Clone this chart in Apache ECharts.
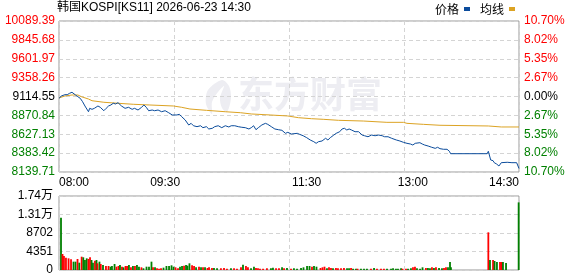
<!DOCTYPE html>
<html>
<head>
<meta charset="utf-8">
<script src="https://cdn.jsdelivr.net/npm/echarts@6/dist/echarts.min.js"></script>
<style>
html,body{margin:0;padding:0;background:#fff;}
#chart{width:578px;height:276px;}
</style>
</head>
<body>
<div id="chart"></div>
<script>
// ---- data ----
const titleText = '韩国KOSPI[KS11] 2026-06-23 14:30';
const basePrice = 9114.55;
const priceTicks = [8139.71, 8383.42, 8627.13, 8870.84, 9114.55, 9358.26, 9601.97, 9845.68, 10089.39];
const pctLabels = ['10.70%', '8.02%', '5.35%', '2.67%', '0.00%', '2.67%', '5.35%', '8.02%', '10.70%'];
const volTicks = [0, 4351, 8702, 13053, 17404];
const volLabels = ['0', '4351', '8702', '1.31万', '1.74万'];
const timeTicks = [0, 90, 210, 300, 390];
const timeLabels = ['08:00', '09:30', '11:30', '13:00', '14:30'];

// minutes since 08:00
const priceMinutes = [0,2,5,7,9,11,12,14,16,18,20,22,25,26,28,30,33,35,38,40,42,44,46,48,50,53,56,59,62,64,67,70,72,74,76,79,81,84,87,90,93,96,97,100,102,104,107,110,112,114,117,120,122,125,127,130,132,135,138,141,144,146,149,152,155,158,161,163,165,167,169,172,175,177,180,183,186,189,192,194,197,202,204,207,210,213,216,218,220,223,226,228,230,233,235,238,240,242,244,246,248,251,254,257,259,262,265,268,271,274,276,279,282,286,289,292,295,298,300,302,303,306,308,310,313,316,319,321,323,326,329,331,332,363,364,365,366,368,369,371,373,374,375,376,380,384,388,390];
const priceValues = [9091,9121,9138,9138,9156,9169,9156,9134,9112,9091,9047,8992,8918,8962,8949,8962,8992,8975,8931,8962,8992,9005,9027,9018,9035,8992,8962,8975,8949,8962,8940,8975,9005,8975,8931,8940,8931,8940,8918,8931,8905,8876,8854,8876,8885,8854,8811,8746,8768,8737,8725,8737,8712,8725,8695,8704,8725,8737,8712,8737,8721,8737,8737,8725,8717,8712,8695,8712,8737,8686,8712,8747,8768,8755,8725,8695,8686,8678,8639,8652,8630,8639,8626,8608,8583,8553,8531,8510,8531,8540,8575,8553,8583,8617,8639,8660,8695,8704,8682,8695,8682,8660,8660,8617,8608,8595,8617,8608,8617,8608,8595,8595,8575,8553,8540,8523,8510,8501,8488,8510,8523,8518,8501,8488,8475,8459,8445,8459,8441,8433,8433,8407,8376,8376,8407,8389,8295,8286,8260,8243,8217,8200,8260,8273,8265,8260,8260,8185];

const avgMinutes = [0,5,11,16,19,25,28,38,50,63,77,97,104,111,125,141,154,163,179,194,203,214,224,237,258,278,292,295,309,323,364,375,390];
const avgValues = [9096,9121,9134,9134,9112,9082,9060,9040,9027,9014,9005,8992,8975,8953,8936,8918,8905,8889,8876,8863,8841,8828,8820,8807,8798,8781,8781,8768,8755,8743,8734,8721,8721];

const volMinutes = [
  1.7,3.0,4.2,5.9,8.1,10.2,12.3,14.0,15.7,17.2,
  19.2,20.6,22.0,23.5,25.0,26.3,27.6,28.8,30.5,31.8,
  32.6,34.3,35.4,37.3,39.8,42.0,43.7,44.9,47.1,48.7,
  50.4,51.7,53.4,54.7,56.4,57.7,59.3,61.0,62.7,64.4,
  66.1,67.8,69.9,71.6,74.2,76.3,78.4,79.7,81.4,83.1,
  84.8,86.5,88.6,91.1,93.3,95.4,97.1,98.8,100.9,102.6,
  104.3,106.0,107.7,108.9,110.6,112.8,114.5,116.2,118.7,120.4,
  122.1,123.8,125.9,127.2,129.7,131.4,134.0,137.3,139.9,142.4,
  145.8,148.4,150.9,154.3,156.0,158.5,160.2,162.8,165.3,167.0,
  168.7,170.4,173.0,176.3,179.7,181.4,184.0,186.5,189.1,190.8,
  193.3,196.7,199.2,201.8,205.2,207.3,210.3,212.4,214.5,216.2,
  218.3,221.7,223.4,225.1,227.2,228.9,230.6,232.3,234.8,236.5,
  239.1,241.6,244.2,245.9,247.6,249.3,251.8,253.1,256.0,258.6,
  261.1,264.5,267.1,269.6,273.0,275.5,278.1,281.5,283.2,285.7,
  287.4,290.0,291.2,294.2,295.9,298.4,300.1,301.8,303.5,306.1,
  308.2,311.1,312.8,314.5,316.2,317.9,319.6,322.2,324.7,326.4,
  328.1,329.8,331.5,332.3,364.0,365.4,368.0,369.3,371.3,373.9,
  375.2,376.4,379.0,389.7
];
const volValues = [
  12300,3760,3290,2900,2740,2500,1960,1960,2590,1720,
  3130,2980,2350,2740,2600,2980,2350,1720,2200,2350,
  1570,1960,1410,1180,940,940,780,940,1410,780,
  940,1180,780,630,940,940,1180,630,940,940,
  1180,780,630,400,780,780,1960,630,630,400,
  300,400,550,940,940,1100,780,630,400,780,
  940,1020,1180,1020,1570,1100,940,630,780,630,
  630,630,470,630,470,470,400,400,470,300,
  400,400,300,630,1250,940,630,400,780,470,
  400,300,300,400,400,550,400,400,630,400,
  470,300,400,300,470,630,940,940,780,940,
  780,470,630,780,400,630,470,400,470,400,
  400,470,400,400,470,300,300,300,300,300,
  300,300,470,300,300,300,300,300,400,300,
  300,400,300,300,300,400,630,780,400,300,
  630,470,470,400,630,470,630,470,400,470,
  630,630,1880,630,8860,2350,2350,2120,1880,1880,
  1880,1880,1650,15900
];
const volDir = [
  'd','u','u','u','u','u','d','d','u','d',
  'u','d','d','d','u','u','d','d','u','d',
  'u','d','u','d','u','u','d','d','d','u',
  'u','d','u','d','u','u','d','u','d','u',
  'd','d','u','d','d','d','d','u','d','u',
  'u','u','d','d','d','d','d','u','u','d',
  'd','u','d','d','d','u','u','d','u','d',
  'u','d','u','u','u','d','d','u','u','u',
  'd','u','u','u','d','u','u','d','d','u',
  'u','u','u','u','d','d','u','u','d','u',
  'd','u','d','d','d','d','d','d','u','d',
  'd','u','u','u','d','u','u','d','u','u',
  'u','u','d','d','u','d','d','u','d','d',
  'd','u','d','u','u','u','d','d','d','d',
  'd','d','u','u','d','d','u','u','d','d',
  'd','u','d','d','u','d','u','d','d','u',
  'u','d','d','d','u','d','u','d','d','u',
  'u','d','d','d'
];

// ---- styles ----
const RED = '#ff0000', GREEN = '#008000', BLUE = '#0b4c9c', GOLD = '#dca323';
const GRID_LINE = {show: true, lineStyle: {color: '#d4d4d4', type: [4, 3], width: 1}};
const FONT = 'Liberation Sans, Arial, Noto Sans CJK SC, sans-serif';
const WM = '#ededf2';

function tickIndex(v) {
  const x = parseFloat(v);
  let best = 0, bd = Infinity;
  priceTicks.forEach((t, i) => { const d = Math.abs(t - x); if (d < bd) { bd = d; best = i; } });
  return best;
}
function tickColor(v) {
  const t = priceTicks[tickIndex(v)];
  if (Math.abs(t - basePrice) < 0.01) return '#000';
  return t > basePrice ? RED : GREEN;
}

const priceData = priceMinutes.map((m, i) => [m, priceValues[i]]);
const avgData = avgMinutes.map((m, i) => [m, avgValues[i]]);
const volData = volMinutes.map((m, i) => ({
  value: [m, volValues[i]],
  itemStyle: {color: volDir[i] === 'u' ? RED : GREEN}
}));

const chart = echarts.init(document.getElementById('chart'), null, {renderer: 'canvas'});
chart.setOption({
  animation: false,
  backgroundColor: '#fff',
  textStyle: {fontFamily: FONT},
  title: {
    text: titleText,
    left: 57, top: 2, padding: 0,
    textStyle: {fontSize: 12, fontWeight: 'normal', color: '#000', fontFamily: FONT}
  },
  legend: {
    data: ['价格', '均线'],
    right: 63, top: 3, padding: 0,
    align: 'right',
    icon: 'rect', itemWidth: 6, itemHeight: 4, itemGap: 10,
    textStyle: {fontSize: 12, color: '#000', fontFamily: 'Noto Sans CJK SC, sans-serif', padding: [0, 0, 0, 0]}
  },
  graphic: [
    {
      type: 'text', left: 238, top: 76, z: 0, silent: true,
      style: {text: '东方财富', font: 'bold 36px "Noto Sans CJK SC", sans-serif', fill: WM}
    },
    {
      type: 'polygon', z: 0, silent: true,
      shape: {points: [[222, 80], [208, 90], [206, 104], [212, 114], [212, 102], [218, 92], [224, 86], [220, 98], [222, 108], [227, 112], [231, 98], [229, 86]], smooth: 0.3},
      style: {fill: WM}
    }
  ],
  grid: [
    {left: 59, right: 59, top: 21, height: 151, show: true, borderColor: '#9a9a9a', borderWidth: 1, backgroundColor: 'transparent'},
    {left: 59, right: 59, top: 196, height: 74, show: true, borderColor: '#9a9a9a', borderWidth: 1, backgroundColor: 'transparent'}
  ],
  xAxis: [
    {
      type: 'value', gridIndex: 0, min: 0, max: 390, position: 'bottom',
      axisLine: {show: false}, axisTick: {show: false}, splitLine: {show: false},
      axisLabel: {
        customValues: timeTicks,
        formatter: v => timeLabels[timeTicks.indexOf(Number(v))],
        alignMinLabel: 'left', alignMaxLabel: 'right',
        color: '#000', fontSize: 12, margin: 5, fontFamily: FONT
      }
    },
    {
      type: 'value', gridIndex: 0, min: 0, max: 390, interval: 97.5, position: 'top',
      axisLine: {show: false}, axisTick: {show: false}, axisLabel: {show: false},
      splitLine: GRID_LINE
    },
    {
      type: 'value', gridIndex: 1, min: 0, max: 390, interval: 97.5,
      axisLine: {show: false}, axisTick: {show: false}, axisLabel: {show: false},
      splitLine: GRID_LINE
    }
  ],
  yAxis: [
    {
      type: 'value', gridIndex: 0, min: priceTicks[0], max: priceTicks[priceTicks.length - 1], position: 'left',
      axisLine: {show: false},
      axisTick: {show: false, customValues: priceTicks},
      splitLine: GRID_LINE,
      axisLabel: {
        customValues: priceTicks,
        formatter: v => priceTicks[tickIndex(v)].toFixed(2),
        color: v => tickColor(v),
        fontSize: 12, margin: 4, fontFamily: FONT
      }
    },
    {
      type: 'value', gridIndex: 0, min: priceTicks[0], max: priceTicks[priceTicks.length - 1], position: 'right',
      axisLine: {show: false},
      axisTick: {show: false, customValues: priceTicks},
      splitLine: {show: false},
      axisLabel: {
        customValues: priceTicks,
        formatter: v => pctLabels[tickIndex(v)],
        color: v => tickColor(v),
        fontSize: 12, margin: 5, fontFamily: FONT
      }
    },
    {
      type: 'value', gridIndex: 1, min: 0, max: volTicks[volTicks.length - 1], interval: volTicks[1],
      axisLine: {show: false}, axisTick: {show: false},
      splitLine: GRID_LINE,
      axisLabel: {
        formatter: v => volLabels[volTicks.indexOf(Number(v))],
        color: '#000', fontSize: 12, margin: 6, fontFamily: FONT
      }
    }
  ],
  series: [
    {
      name: '价格', type: 'line', xAxisIndex: 0, yAxisIndex: 0, data: priceData,
      showSymbol: false, symbol: 'none', lineStyle: {color: BLUE, width: 1}, itemStyle: {color: BLUE}, z: 3
    },
    {
      name: '均线', type: 'line', xAxisIndex: 0, yAxisIndex: 0, data: avgData,
      showSymbol: false, symbol: 'none', lineStyle: {color: GOLD, width: 1}, itemStyle: {color: GOLD}, z: 2
    },
    {
      name: '成交量', type: 'bar', xAxisIndex: 2, yAxisIndex: 2, data: volData,
      barWidth: 1.8, z: 2
    }
  ]
});
</script>
</body>
</html>
